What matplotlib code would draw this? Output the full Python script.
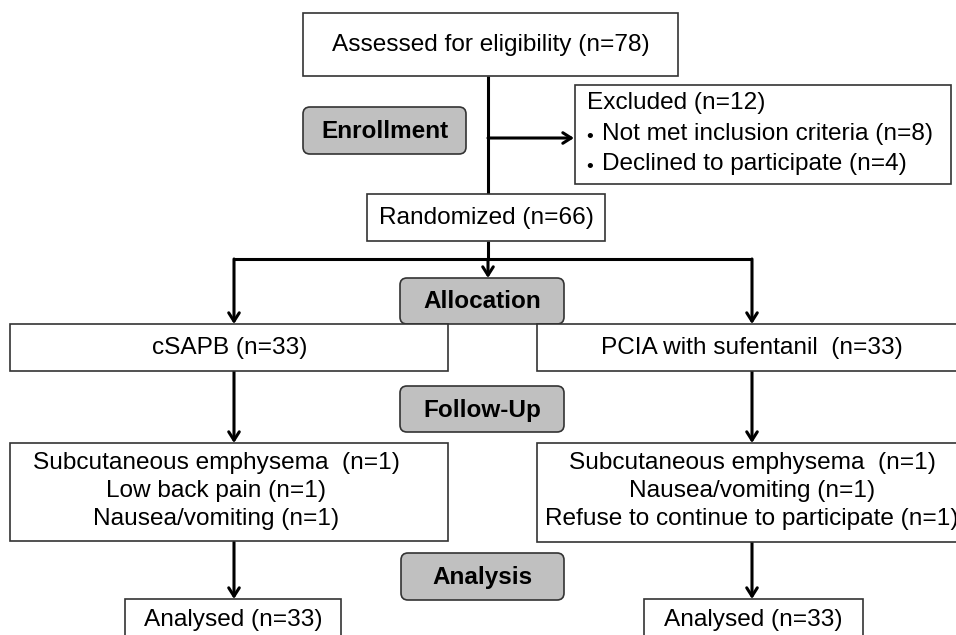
import matplotlib
matplotlib.use("Agg")
import matplotlib.pyplot as plt
from matplotlib.patches import Rectangle, FancyBboxPatch

plt.rcParams['font.family'] = ['Liberation Sans', 'DejaVu Sans']

# --- data (CONSORT flow counts) ---
n_assessed = 78
excluded_reasons = ["Not met inclusion criteria", "Declined to participate"]
excluded_counts = [8, 4]
n_randomized = 66
arm_names = ["cSAPB", "PCIA with sufentanil "]
arm_counts = [33, 33]
lost_left = ["Subcutaneous emphysema ", "Low back pain", "Nausea/vomiting"]
lost_left_n = [1, 1, 1]
lost_right = ["Subcutaneous emphysema ", "Nausea/vomiting",
              "Refuse to continue to participate"]
lost_right_n = [1, 1, 1]
analysed_counts = [33, 33]
stages = ["Enrollment", "Allocation", "Follow-Up", "Analysis"]

# --- layout (pixel space, y grows downward) ---
W, H = 956, 635
fig = plt.figure(figsize=(W / 100, H / 100), dpi=100)
ax = fig.add_axes([0, 0, 1, 1])
ax.set_xlim(0, W)
ax.set_ylim(H, 0)
ax.axis('off')

EDGE = '#333333'
FS = 17.6


def box(x0, y0, x1, y1):
    ax.add_patch(Rectangle((x0, y0), x1 - x0, y1 - y0, facecolor='white',
                           edgecolor=EDGE, linewidth=1.2, zorder=2))


def stage(x0, y0, x1, y1, label):
    ax.add_patch(FancyBboxPatch((x0 + 7, y0 + 7), x1 - x0 - 14, y1 - y0 - 14,
                                boxstyle='round,pad=7', facecolor='#c0c0c0',
                                edgecolor=EDGE, linewidth=1.2, zorder=2))
    ax.text((x0 + x1) / 2, (y0 + y1) / 2 + 1, label, ha='center', va='center',
            fontsize=17.5, fontweight='bold', zorder=3)


def line(xs, ys):
    ax.plot(xs, ys, color='black', linewidth=2.2, solid_capstyle='butt', zorder=1)


def arrow(x0, y0, x1, y1):
    ax.annotate('', xy=(x1, y1), xytext=(x0, y0),
                arrowprops=dict(arrowstyle='->,head_length=0.6,head_width=0.38',
                                color='black', lw=2.2, shrinkA=0, shrinkB=0),
                zorder=1)


# enrollment
box(303, 13, 678, 76)
ax.text(491, 45, f"Assessed for eligibility (n={n_assessed})", ha='center',
        va='center', fontsize=FS, zorder=3)
line([488, 488], [76, 194])
arrow(488, 138, 574, 138)
stage(303, 107, 466, 154, stages[0])

box(575, 85, 951, 184)
ax.text(587, 103, f"Excluded (n={sum(excluded_counts)})", ha='left',
        va='center', fontsize=FS, zorder=3)
for i, (r, c) in enumerate(zip(excluded_reasons, excluded_counts)):
    yy = 134 + 30 * i
    ax.text(590, yy + 3, "\u2022", ha='center', va='center', fontsize=14,
            zorder=3)
    ax.text(602, yy, f"{r} (n={c})", ha='left', va='center',
            fontsize=FS, zorder=3)

box(367, 194, 605, 241)
ax.text(486, 218, f"Randomized (n={n_randomized})", ha='center', va='center',
        fontsize=FS, zorder=3)

# allocation
arm_x = [234, 752]
line([488, 488], [241, 259])
line([arm_x[0], arm_x[1]], [259, 259])
arrow(488, 259, 488, 278)
for xa in arm_x:
    arrow(xa, 259, xa, 324)
stage(400, 278, 564, 324, stages[1])

box(10, 324, 448, 371)
box(537, 324, 975, 371)
arm_cx = [230, 752]
for cx, name, n in zip(arm_cx, arm_names, arm_counts):
    ax.text(cx, 348, f"{name} (n={n})", ha='center', va='center',
            fontsize=FS, zorder=3)

# follow-up
for xa in arm_x:
    arrow(xa, 371, xa, 443)
stage(400, 386, 564, 432, stages[2])

box(10, 443, 448, 541)
box(537, 443, 975, 542)
for cx, items, ns in [(216, lost_left, lost_left_n), (752, lost_right, lost_right_n)]:
    for i, (t, n) in enumerate(zip(items, ns)):
        ax.text(cx, 463 + 28 * i, f"{t} (n={n})", ha='center', va='center',
                fontsize=FS, zorder=3)

# analysis
for xa in arm_x:
    arrow(xa, 542, xa, 599)
stage(401, 553, 564, 600, stages[3])

box(125, 599, 341, 660)
box(644, 599, 863, 660)
for cx, n in zip([233, 753], analysed_counts):
    ax.text(cx, 620, f"Analysed (n={n})", ha='center', va='center',
            fontsize=FS, zorder=3)

fig.savefig('out.png', dpi=100)
